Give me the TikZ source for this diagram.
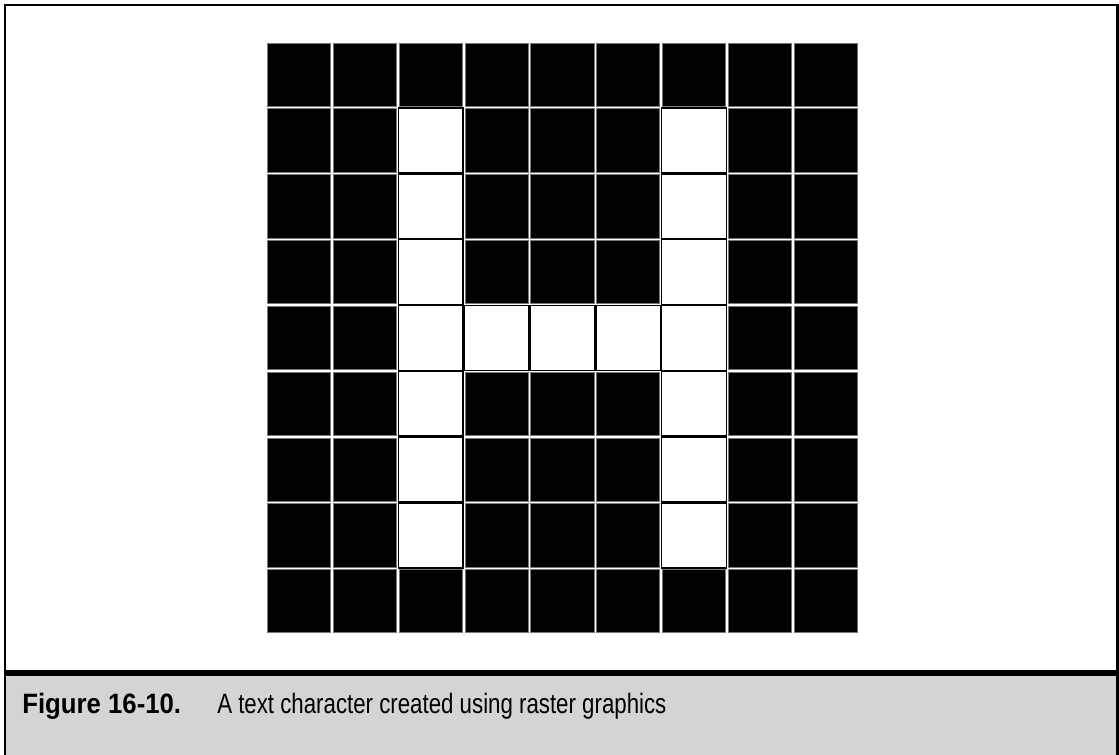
\documentclass[tikz,border=0pt]{standalone}
\usepackage{fontspec}
\newfontfamily\figlabelfont[FakeStretch=0.92]{Liberation Sans}
\newfontfamily\figtextfont[FakeStretch=0.795]{Liberation Sans}
\usepackage{tikz}
\usetikzlibrary{positioning}
\usepackage{xcolor}
\definecolor{captiongray}{RGB}{212,212,212}
\definecolor{celledge}{RGB}{120,120,120}
\tikzset{
  basepixel/.style={rectangle, inner sep=0pt, minimum size=47.5pt, outer sep=0pt},
  offpixel/.style={basepixel, fill=black, draw=celledge, line width=0.5pt},
  onpixel/.style={basepixel, fill=white, draw=black, line width=1.2pt, minimum size=48.6pt},
  frameline/.style={draw=black, line width=1.9pt},
  captionlabel/.style={anchor=base west, inner sep=0pt, font=\figlabelfont\bfseries\fontsize{21}{25}\selectfont},
  captiontext/.style={anchor=base west, inner sep=0pt, font=\figtextfont\fontsize{21}{25}\selectfont}
}

\begin{document}
\begin{tikzpicture}[x=0.75pt, y=-0.75pt]
  \useasboundingbox (0,0) rectangle (1119,755);

  % caption band
  \fill[captiongray] (5,673) rectangle (1118,755);
  \draw[frameline] (5,756) -- (5,5) -- (1117.5,5) -- (1117.5,756);
  \draw[black, line width=4.5pt] (5,673) -- (1118,673);

  % 9x9 raster of the letter
  \foreach \r in {0,...,8}{
    \foreach \c in {0,...,8}{
      \pgfmathtruncatemacro\ison{((\c==2 || \c==6) && \r>0 && \r<8) || (\r==4 && \c>2 && \c<6)}
      \ifnum\ison=1 \def\pixkind{onpixel}\else\def\pixkind{offpixel}\fi
      \node[\pixkind] (px-\c-\r) at ({266.7+65.8*\c+32.4}, {42.3+65.8*\r+32.4}) {};
    }
  }

  % caption
  \node[captionlabel] (figlabel) at (22,713) {Figure 16-10.};
  \node[captiontext] (figtext) at (217,713) {A text character created using raster graphics};
\end{tikzpicture}
\end{document}
